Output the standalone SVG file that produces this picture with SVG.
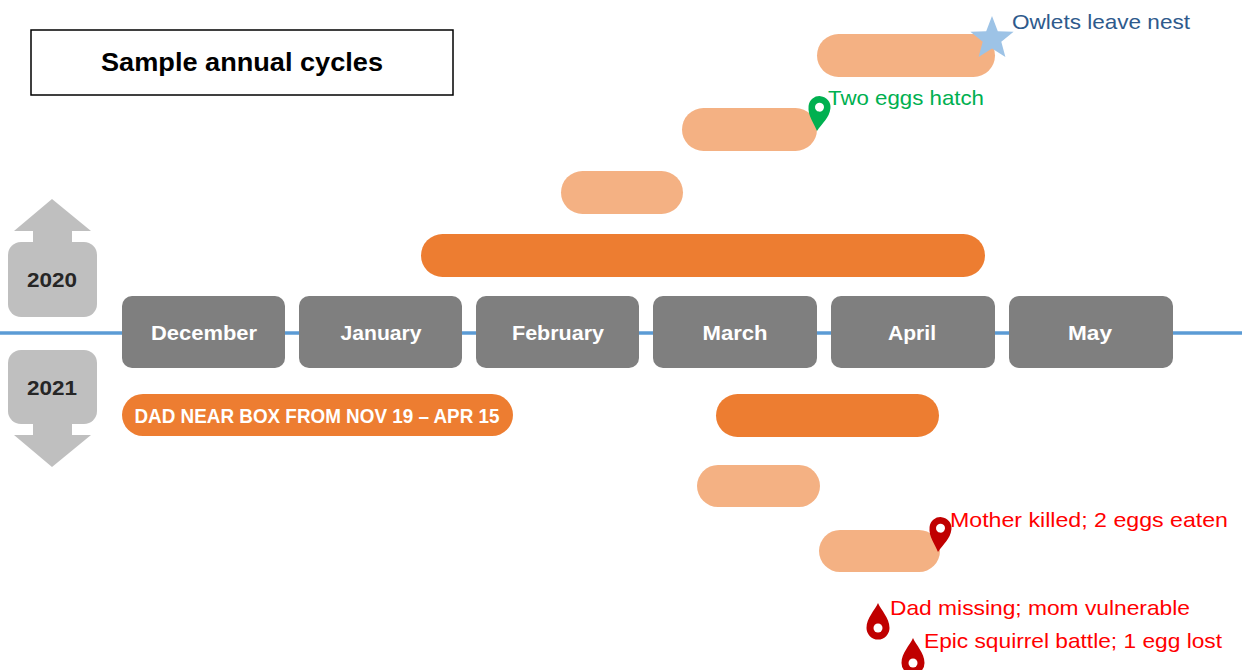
<svg xmlns="http://www.w3.org/2000/svg" xmlns:xlink="http://www.w3.org/1999/xlink" width="1242" height="670" viewBox="0 0 1242 670">
<style>
.month{fill:#7F7F7F}
.mtxt{font-family:"Liberation Sans",Arial,sans-serif;font-weight:bold;font-size:21px;fill:#FFFFFF;text-anchor:middle}
.dark{fill:#ED7D31}
.light{fill:#F4B183}
.yr{fill:#BFBFBF}
.ytxt{font-family:"Liberation Sans",Arial,sans-serif;font-weight:bold;font-size:21px;fill:#262626;text-anchor:middle}
.lbl{font-family:"Liberation Sans",Arial,sans-serif;font-size:21px}
.red{fill:#FF0000}
</style>
<defs>
<g id="pin">
<path d="M0,0 C-4,-8 -11,-14 -11,-24 A11,11 0 0 1 11,-24 C11,-14 4,-8 0,0 Z"/>
<circle cx="0" cy="-24" r="4.5" fill="#FFFFFF"/>
</g>
<g id="drop">
<path d="M0,-25 C3,-18 11.5,-10 11.5,0 A11.5,11.5 0 0 1 -11.5,0 C-11.5,-10 -3,-18 0,-25 Z"/>
<circle cx="0" cy="0" r="4.5" fill="#FFFFFF"/>
</g>
</defs>
<rect width="1242" height="670" fill="#FFFFFF"/>

<g id="connectors">
<line x1="0" y1="333" x2="1242" y2="333" stroke="#5B9BD5" stroke-width="3.5"/>
</g>

<g id="title">
<rect x="31" y="30" width="422" height="65" fill="#FFFFFF" stroke="#000000" stroke-width="1.5"/>
<text x="242" y="71" font-family="Liberation Sans,Arial,sans-serif" font-weight="bold" font-size="26" text-anchor="middle" textLength="282" lengthAdjust="spacingAndGlyphs" fill="#000000">Sample annual cycles</text>
</g>

<g id="year2020">
<path class="yr" d="M52,199 L91,231 L72,231 L72,242 L33,242 L33,231 L14,231 Z"/>
<rect class="yr" x="8" y="242" width="89" height="75" rx="13"/>
<text class="ytxt" x="52" y="287" textLength="50" lengthAdjust="spacingAndGlyphs">2020</text>
</g>
<g id="year2021">
<rect class="yr" x="8" y="350" width="89" height="74" rx="13"/>
<path class="yr" d="M33,423 L72,423 L72,435 L91,435 L52,467 L14,435 L33,435 Z"/>
<text class="ytxt" x="52" y="395" textLength="50" lengthAdjust="spacingAndGlyphs">2021</text>
</g>

<g id="m-december"><rect class="month" x="122" y="296" width="163" height="72" rx="10"/><text class="mtxt" x="204" y="340" textLength="106" lengthAdjust="spacingAndGlyphs">December</text></g>
<g id="m-january"><rect class="month" x="299" y="296" width="163" height="72" rx="10"/><text class="mtxt" x="381" y="340" textLength="81" lengthAdjust="spacingAndGlyphs">January</text></g>
<g id="m-february"><rect class="month" x="476" y="296" width="163" height="72" rx="10"/><text class="mtxt" x="558" y="340" textLength="92" lengthAdjust="spacingAndGlyphs">February</text></g>
<g id="m-march"><rect class="month" x="653" y="296" width="164" height="72" rx="10"/><text class="mtxt" x="735" y="340" textLength="65" lengthAdjust="spacingAndGlyphs">March</text></g>
<g id="m-april"><rect class="month" x="831" y="296" width="164" height="72" rx="10"/><text class="mtxt" x="912" y="340" textLength="48" lengthAdjust="spacingAndGlyphs">April</text></g>
<g id="m-may"><rect class="month" x="1009" y="296" width="164" height="72" rx="10"/><text class="mtxt" x="1090" y="340" textLength="44" lengthAdjust="spacingAndGlyphs">May</text></g>

<g id="bar-2020-main"><rect class="dark" x="421" y="234" width="564" height="43" rx="21.5"/></g>
<g id="bar-2020-a"><rect class="light" x="561" y="171" width="122" height="43" rx="21.5"/></g>
<g id="bar-2020-b"><rect class="light" x="682" y="108" width="135" height="43" rx="21.5"/></g>
<g id="bar-2020-c"><rect class="light" x="817" y="34" width="178" height="43" rx="21.5"/></g>

<g id="ev-hatch">
<use xlink:href="#pin" href="#pin" transform="translate(817,131) rotate(6)" fill="#00B050"/>
<text class="lbl" x="828" y="105" fill="#00B050" textLength="156" lengthAdjust="spacingAndGlyphs">Two eggs hatch</text>
</g>
<g id="ev-owlets">
<path d="M992,16 L997.8,31.2 L1013.6,31.7 L1001.3,41.8 L1005.4,57.1 L992,48.5 L978.6,57.1 L982.7,41.8 L970.4,31.7 L986.2,31.2 Z" fill="#9DC3E6"/>
<text class="lbl" x="1012" y="29" fill="#2E5A8C" textLength="178" lengthAdjust="spacingAndGlyphs">Owlets leave nest</text>
</g>

<g id="bar-dad">
<rect class="dark" x="122" y="394" width="391" height="42" rx="21"/>
<text x="317" y="423" font-family="Liberation Sans,Arial,sans-serif" font-weight="bold" font-size="20" fill="#FFFFFF" text-anchor="middle" textLength="365" lengthAdjust="spacingAndGlyphs">DAD NEAR BOX FROM NOV 19 – APR 15</text>
</g>
<g id="bar-2021-main"><rect class="dark" x="716" y="394" width="223" height="43" rx="21.5"/></g>
<g id="bar-2021-a"><rect class="light" x="697" y="465" width="123" height="42" rx="21"/></g>
<g id="bar-2021-b"><rect class="light" x="819" y="530" width="121" height="42" rx="21"/></g>

<g id="ev-mother">
<use xlink:href="#pin" href="#pin" transform="translate(938,552) rotate(6)" fill="#C00000"/>
<text class="lbl red" x="950" y="527" textLength="278" lengthAdjust="spacingAndGlyphs">Mother killed; 2 eggs eaten</text>
</g>
<g id="ev-dad">
<use xlink:href="#drop" href="#drop" transform="translate(878,628)" fill="#C00000"/>
<text class="lbl red" x="890" y="615" textLength="300" lengthAdjust="spacingAndGlyphs">Dad missing; mom vulnerable</text>
</g>
<g id="ev-squirrel">
<use xlink:href="#drop" href="#drop" transform="translate(913,663)" fill="#C00000"/>
<text class="lbl red" x="924" y="648" textLength="298" lengthAdjust="spacingAndGlyphs">Epic squirrel battle; 1 egg lost</text>
</g>
</svg>
